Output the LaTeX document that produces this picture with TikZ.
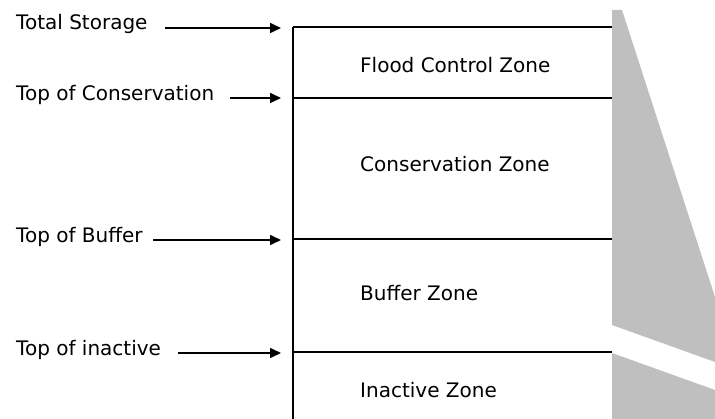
\documentclass[tikz,border=0pt]{standalone}
\usepackage{fontspec}
\setmainfont{DejaVu Sans}
\usetikzlibrary{arrows.meta}

\begin{document}
\begin{tikzpicture}[x=1pt, y=-1pt, font=\fontsize{20}{24}\selectfont,
  lbl/.style={anchor=base west, inner sep=0pt},
  zone/.style={anchor=base west, inner sep=0pt},
  level/.style={line width=1.6pt},
  ptr/.style={line width=1.6pt, -{Triangle[length=11pt,width=10pt]}}]
  \useasboundingbox (0,0) rectangle (715,419);

  % dam face
  \fill[gray!50] (612,10) -- (622,10) -- (715,297) -- (715,362) -- (612,325) -- cycle;
  \fill[gray!50] (612,353) -- (715,390) -- (715,419) -- (612,419) -- cycle;

  % pool levels
  \coordinate (axisTop) at (293,27);
  \coordinate (axisBot) at (293,419);
  \coordinate (totalR) at (612,27);
  \coordinate (consL) at (293,98);
  \coordinate (consR) at (612,98);
  \coordinate (bufL) at (293,239);
  \coordinate (bufR) at (612,239);
  \coordinate (inactL) at (293,352);
  \coordinate (inactR) at (612,352);

  \draw[level] (axisTop) -- (axisBot);
  \draw[level] (axisTop) -- (totalR);
  \draw[level] (consL) -- (consR);
  \draw[level] (bufL) -- (bufR);
  \draw[level] (inactL) -- (inactR);

  % zones
  \node (flood) [zone] at (360,73) {Flood Control Zone};
  \node (conszone) [zone] at (360,172) {Conservation Zone};
  \node (bufzone) [zone] at (360,301) {Buffer Zone};
  \node (inactzone) [zone] at (360,398) {Inactive Zone};

  % labels on the left
  \node (total) [lbl] at (16,30) {Total Storage};
  \node (cons) [lbl] at (16,101) {Top of Conservation};
  \node (buf) [lbl] at (16,243) {Top of Buffer};
  \node (inact) [lbl] at (16,356) {Top of inactive};

  \coordinate (totalS) at (165,28);
  \coordinate (totalE) at (281,28);
  \coordinate (consS) at (230,98);
  \coordinate (consE) at (281,98);
  \coordinate (bufS) at (153,240);
  \coordinate (bufE) at (281,240);
  \coordinate (inactS) at (178,353);
  \coordinate (inactE) at (281,353);

  \draw[ptr] (totalS) -- (totalE);
  \draw[ptr] (consS) -- (consE);
  \draw[ptr] (bufS) -- (bufE);
  \draw[ptr] (inactS) -- (inactE);
\end{tikzpicture}
\end{document}
